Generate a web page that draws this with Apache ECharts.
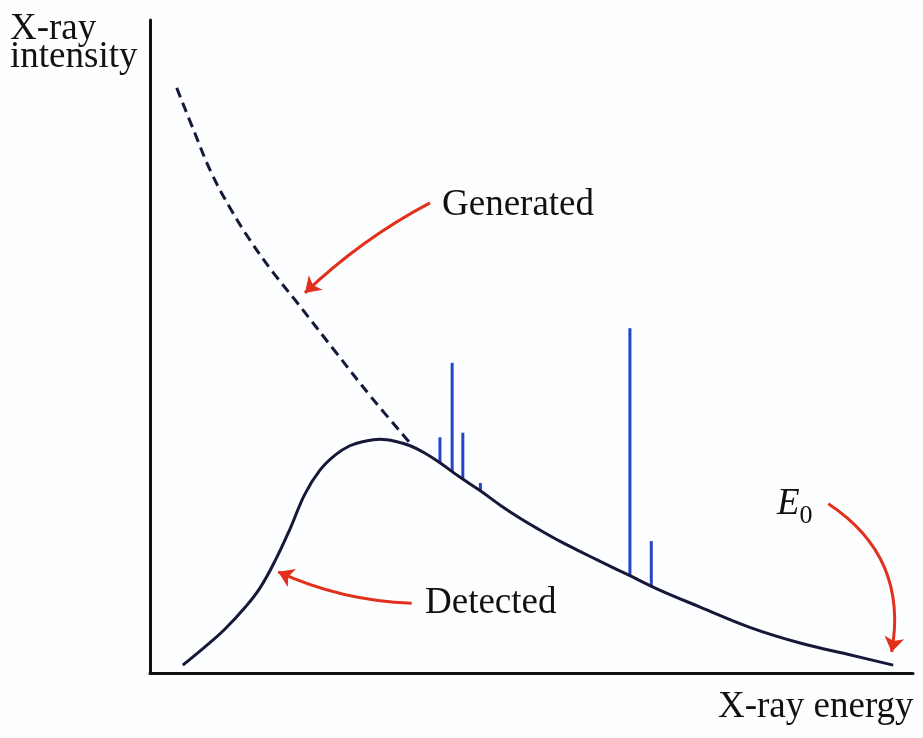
<!DOCTYPE html>
<html>
<head>
<meta charset="utf-8">
<script src="https://cdn.jsdelivr.net/npm/echarts@6/dist/echarts.min.js"></script>
<style>html,body{margin:0;padding:0;background:#fdfeff}#c{width:923px;height:738px}</style>
</head>
<body>
<div id="c"></div>
<script>
// Detected continuum (energy, intensity in arbitrary units)
const detectedEnergy    = [4.3, 7.2, 9.8, 12.5, 14.4, 16.4, 18.4, 20.3, 22.3, 24.3, 26.2, 28.2, 30.1, 32.1, 34.1, 36.0, 38.0, 40.6, 43.3, 45.9, 48.5, 51.1, 53.7, 56.4, 59.0, 62.9, 66.8, 72.1, 78.6, 85.2, 91.7, 97.4];
const detectedIntensity = [1.2, 4.0, 6.7, 10.1, 13.0, 17.2, 22.2, 27.4, 31.1, 33.4, 34.8, 35.5, 35.8, 35.5, 34.8, 33.7, 32.2, 30.0, 27.9, 25.7, 23.7, 21.9, 20.2, 18.6, 17.1, 14.9, 12.7, 10.1, 7.0, 4.6, 2.8, 1.2];
// Generated continuum (dashed, low-energy part)
const generatedEnergy    = [3.5, 5.8, 8.0, 10.5, 13.1, 16.1, 19.3, 24.3, 29.1, 34.1];
const generatedIntensity = [89.6, 82.9, 76.7, 71.2, 66.3, 61.4, 56.7, 49.2, 42.1, 35.2];
// Characteristic peaks
const peakEnergy = [38.0, 39.6, 41.0, 43.3, 62.9, 65.7];
const peakBase   = [32.2, 30.9, 29.6, 27.9, 14.9, 13.3];
const peakTop    = [36.1, 47.5, 36.8, 29.1, 52.8, 20.2];
// Annotation arrows [from, to] in data units
const arrowGenerated = [[36.7, 72.0], [20.3, 58.2]];
const arrowDetected  = [[34.3, 10.7], [16.8, 15.5]];
const arrowE0        = [[88.9, 25.9], [97.2, 3.2]];

const zip = (a, b) => a.map((v, i) => [v, b[i]]);
const serif = '"Liberation Serif", "DejaVu Serif", serif';
const curveColor = '#17173a';
const red = '#e2301c';

const chart = echarts.init(document.getElementById('c'), null, {renderer: 'canvas'});
chart.setOption({
  backgroundColor: '#fdfeff',
  animation: false,
  grid: {left: 150, right: 10, top: 20, bottom: 65},
  xAxis: {
    type: 'value', min: 0, max: 100,
    axisLine: {show: true, lineStyle: {color: '#111', width: 3}},
    axisTick: {show: false}, axisLabel: {show: false}, splitLine: {show: false}
  },
  yAxis: {
    type: 'value', min: 0, max: 100,
    axisLine: {show: true, lineStyle: {color: '#111', width: 3}},
    axisTick: {show: false}, axisLabel: {show: false}, splitLine: {show: false}
  },
  series: [
    {
      type: 'custom', z: 2,
      data: peakEnergy.map((e, i) => [e, peakBase[i], peakTop[i]]),
      renderItem: function (params, api) {
        const a = api.coord([api.value(0), api.value(1)]);
        const b = api.coord([api.value(0), api.value(2)]);
        return {type: 'line', shape: {x1: a[0], y1: a[1], x2: b[0], y2: b[1]},
          style: {stroke: '#2346c8', lineWidth: 3}};
      }
    },
    {
      type: 'line', z: 3, smooth: 0.4, symbol: 'none',
      data: zip(detectedEnergy, detectedIntensity),
      lineStyle: {color: curveColor, width: 3}
    },
    {
      type: 'line', z: 3, smooth: 0.4, symbol: 'none',
      data: zip(generatedEnergy, generatedIntensity),
      lineStyle: {color: curveColor, width: 3, type: [10, 6]}
    },
    {
      type: 'lines', coordinateSystem: 'cartesian2d', z: 4,
      symbol: ['none', 'arrow'], symbolSize: [11, 15],
      lineStyle: {color: red, width: 3, opacity: 1},
      data: [
        {coords: arrowGenerated, lineStyle: {curveness: -0.07}},
        {coords: arrowDetected, lineStyle: {curveness: 0.1}},
        {coords: arrowE0, lineStyle: {curveness: 0.33}}
      ]
    }
  ],
  graphic: [
    {type: 'text', left: 10, top: 11, style: {text: 'X-ray', font: '37px ' + serif, fill: '#111'}},
    {type: 'text', left: 10, top: 39, style: {text: 'intensity', font: '37px ' + serif, fill: '#111'}},
    {type: 'text', left: 718, top: 689, style: {text: 'X-ray energy', font: '37px ' + serif, fill: '#111'}},
    {type: 'text', left: 442, top: 187, style: {text: 'Generated', font: '37px ' + serif, fill: '#111'}},
    {type: 'text', left: 425, top: 585, style: {text: 'Detected', font: '37px ' + serif, fill: '#111'}},
    {type: 'text', left: 777, top: 486, style: {
      text: '{e|E}{s|0}', fill: '#111',
      rich: {e: {font: 'italic 37px ' + serif, fill: '#111'},
             s: {font: '26px ' + serif, fill: '#111', padding: [24, 0, 0, 0]}}
    }}
  ]
});
</script>
</body>
</html>
